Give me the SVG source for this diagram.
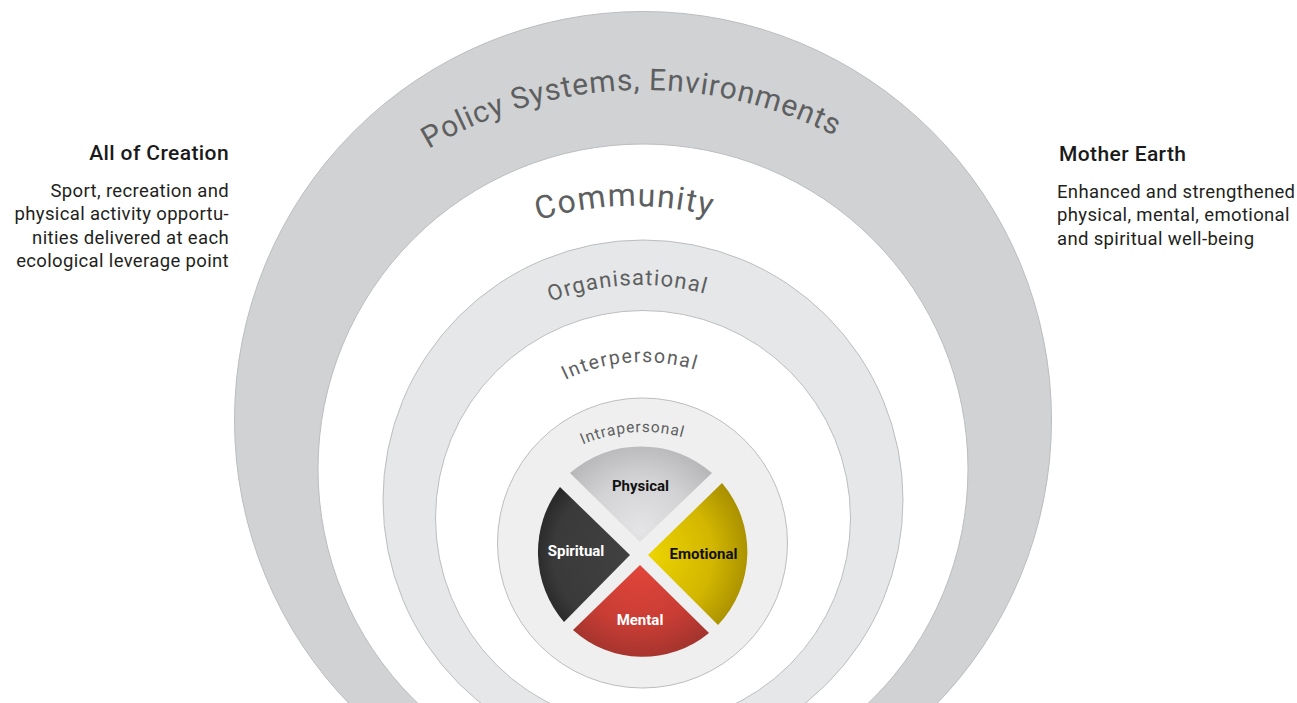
<svg xmlns="http://www.w3.org/2000/svg" width="1297" height="703" viewBox="0 0 1297 703">
  <style>
    .ring { stroke: #bcbdbf; stroke-width: 1; }
    .ring-label { font-family: Roboto, "Liberation Sans", sans-serif; fill: #5e5f61; }
    .side-title { font-family: Roboto, "Liberation Sans", sans-serif; font-size: 21px; font-weight: 500; letter-spacing: 0.4px; fill: #1a1a1a; }
    .side-body { font-family: Roboto, "Liberation Sans", sans-serif; font-size: 18.5px; letter-spacing: 0.35px; fill: #231f20; }
    .wheel-label { font-family: Roboto, "Liberation Sans", sans-serif; font-size: 15px; font-weight: 700; text-anchor: middle; }
  </style>
  <defs>
    <!-- baseline arcs for the ring labels (left-to-right over the top) -->
    <path id="arc-policy" d="M222.6,511 A421,421 0 0 1 1064.6,511"/>
    <path id="arc-community" d="M318,520 A314,314 0 0 1 946,520"/>
    <path id="arc-org" d="M395,530 A245,245 0 0 1 885,530"/>
    <path id="arc-inter" d="M465,540 A178,178 0 0 1 821,540"/>
    <path id="arc-intra" d="M493,582 A150,150 0 0 1 793,582"/>

    <radialGradient id="g-physical" gradientUnits="userSpaceOnUse" cx="640" cy="530" r="95">
      <stop offset="0" stop-color="#e4e4e6"/>
      <stop offset="0.55" stop-color="#d2d2d4"/>
      <stop offset="1" stop-color="#b3b3b5"/>
    </radialGradient>
    <radialGradient id="g-spiritual" gradientUnits="userSpaceOnUse" cx="625" cy="555" r="95">
      <stop offset="0" stop-color="#404040"/>
      <stop offset="0.75" stop-color="#3a3a3a"/>
      <stop offset="1" stop-color="#262626"/>
    </radialGradient>
    <radialGradient id="g-emotional" gradientUnits="userSpaceOnUse" cx="650" cy="555" r="105">
      <stop offset="0" stop-color="#ecd400"/>
      <stop offset="0.6" stop-color="#d2b600"/>
      <stop offset="1" stop-color="#a48b00"/>
    </radialGradient>
    <radialGradient id="g-mental" gradientUnits="userSpaceOnUse" cx="640" cy="565" r="100">
      <stop offset="0" stop-color="#e2453a"/>
      <stop offset="0.6" stop-color="#c83d34"/>
      <stop offset="1" stop-color="#9e332d"/>
    </radialGradient>
  </defs>

  <rect width="1297" height="703" fill="#ffffff"/>

  <!-- nested ecological levels -->
  <g id="policy-systems-environments">
    <circle class="ring" cx="643" cy="420" r="408.5" fill="#d1d2d4"/>
  </g>
  <g id="community">
    <circle class="ring" cx="643" cy="469" r="325" fill="#ffffff"/>
  </g>
  <g id="organisational">
    <circle class="ring" cx="643" cy="500" r="260" fill="#e6e7e8"/>
  </g>
  <g id="interpersonal">
    <circle class="ring" cx="643" cy="518" r="207.5" fill="#ffffff"/>
  </g>
  <g id="intrapersonal">
    <circle class="ring" cx="642.5" cy="543" r="145" fill="#efefef"/>
  </g>

  <!-- ring labels -->
  <text class="ring-label" font-size="30"><textPath href="#arc-policy" startOffset="48.97%" text-anchor="middle" textLength="424" lengthAdjust="spacing">Policy Systems, Environments</textPath></text>
  <text class="ring-label" font-size="32"><textPath href="#arc-community" startOffset="49.19%" text-anchor="middle" textLength="175" lengthAdjust="spacing">Community</textPath></text>
  <text class="ring-label" font-size="22"><textPath href="#arc-org" startOffset="48.31%" text-anchor="middle" textLength="157" lengthAdjust="spacing">Organisational</textPath></text>
  <text class="ring-label" font-size="19.5"><textPath href="#arc-inter" startOffset="47.49%" text-anchor="middle" textLength="133" lengthAdjust="spacing">Interpersonal</textPath></text>
  <text class="ring-label" font-size="15.5"><textPath href="#arc-intra" startOffset="47.66%" text-anchor="middle" textLength="102" lengthAdjust="spacing">Intrapersonal</textPath></text>

  <!-- medicine wheel -->
  <g id="physical">
    <path d="M640,542 L570,473 A108,108 0 0 1 712,473 Z" fill="url(#g-physical)"/>
    <text class="wheel-label" x="640.5" y="491" fill="#111111">Physical</text>
  </g>
  <g id="emotional">
    <path d="M648,555 L722,483 A106,106 0 0 1 718,625 Z" fill="url(#g-emotional)"/>
    <text class="wheel-label" x="703.5" y="559" fill="#111111">Emotional</text>
  </g>
  <g id="mental">
    <path d="M640,565 L709,633 A104,104 0 0 1 573,630 Z" fill="url(#g-mental)"/>
    <text class="wheel-label" x="640" y="625" fill="#ffffff">Mental</text>
  </g>
  <g id="spiritual">
    <path d="M630,555 L564,622 A107,107 0 0 1 560,487 Z" fill="url(#g-spiritual)"/>
    <text class="wheel-label" x="576" y="556" fill="#ffffff">Spiritual</text>
  </g>

  <!-- side notes -->
  <g id="all-of-creation" text-anchor="end">
    <text class="side-title" x="229" y="160">All of Creation</text>
    <text class="side-body" x="229" y="197">Sport, recreation and</text>
    <text class="side-body" x="229" y="220.3">physical activity opportu-</text>
    <text class="side-body" x="229" y="243.7">nities delivered at each</text>
    <text class="side-body" x="229" y="267">ecological leverage point</text>
  </g>
  <g id="mother-earth">
    <text class="side-title" x="1059" y="161">Mother Earth</text>
    <text class="side-body" x="1057" y="198">Enhanced and strengthened</text>
    <text class="side-body" x="1057" y="221.3">physical, mental, emotional</text>
    <text class="side-body" x="1057" y="244.7">and spiritual well-being</text>
  </g>

  <!-- no connectors in this figure -->
  <g id="connectors"/>
</svg>
